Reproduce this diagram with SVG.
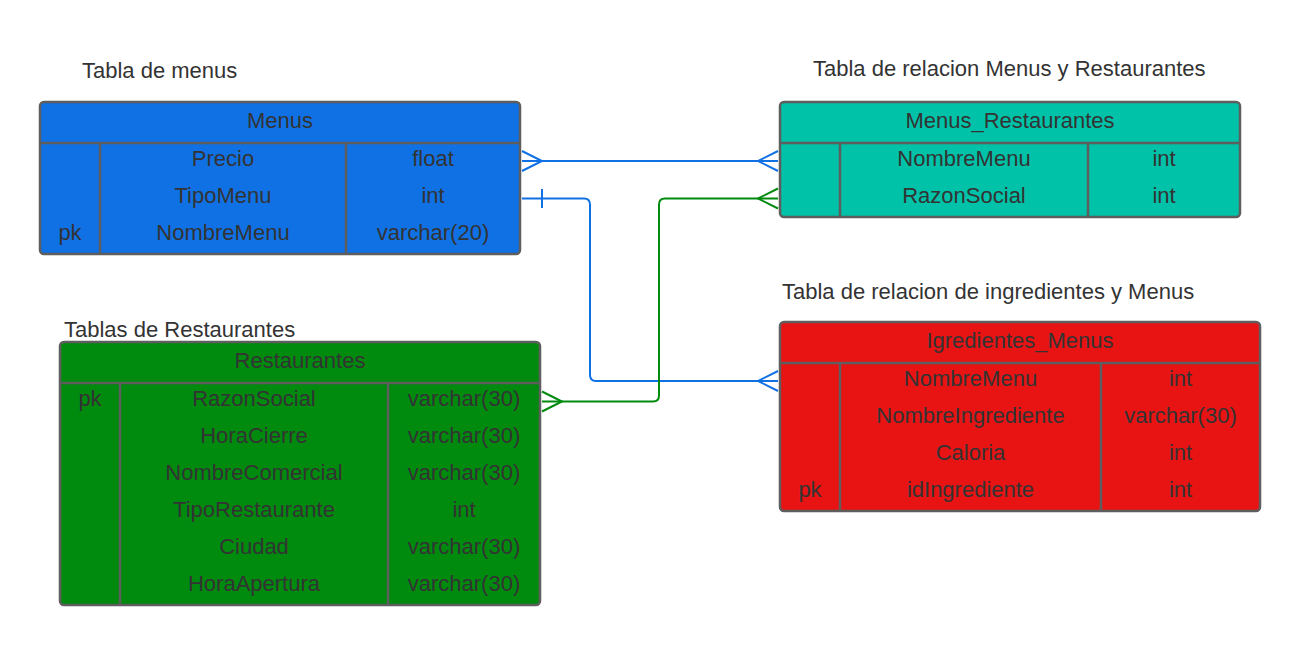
<svg xmlns="http://www.w3.org/2000/svg" width="1300" height="645" viewBox="0 0 1300 645">
<style>
text{font-family:"Liberation Sans",Arial,sans-serif;fill:#333333;font-size:22px;text-anchor:middle}
.title{font-size:22px;text-anchor:start}
.box{stroke:#5E5E5E;stroke-width:2.5}
.div{stroke:#5E5E5E;stroke-width:2.5;fill:none}
.blue{stroke:#1071E5;stroke-width:2;fill:none}
.green{stroke:#008A0E;stroke-width:2;fill:none}
</style>
<rect width="1300" height="645" fill="#FFFFFF"/>
<g id="titles">
<text class="title" x="82" y="78">Tabla de menus</text>
<text class="title" x="813" y="76">Tabla de relacion Menus y Restaurantes</text>
<text class="title" x="782" y="299">Tabla de relacion de ingredientes y Menus</text>
<text class="title" x="64" y="337">Tablas de Restaurantes</text>
</g>
<g id="connectors">
<path class="blue" d="M522 161 H778"/>
<path class="blue" d="M522 151 L542 161 L522 171"/>
<path class="blue" d="M778 151 L758 161 L778 171"/>
<path class="blue" d="M522 198.5 H584 Q590 198.5 590 204.5 V375 Q590 381 596 381 H778"/>
<path class="blue" d="M542 189 V208"/>
<path class="blue" d="M778 371 L758 381 L778 391"/>
<path class="green" d="M542 401.5 H653 Q659 401.5 659 395.5 V204.5 Q659 198.5 665 198.5 H778"/>
<path class="green" d="M542 391.5 L562 401.5 L542 411.5"/>
<path class="green" d="M778 188.5 L758 198.5 L778 208.5"/>
</g>
<g id="menus">
<rect class="box" x="40" y="102" width="480" height="152" rx="4" fill="#1071E5"/>
<path class="div" d="M40 143 H520 M100 143 V254 M346 143 V254"/>
<text x="280" y="127.5">Menus</text>
<text x="223" y="166">Precio</text><text x="433" y="166">float</text>
<text x="223" y="203">TipoMenu</text><text x="433" y="203">int</text>
<text x="70" y="240">pk</text><text x="223" y="240">NombreMenu</text><text x="433" y="240">varchar(20)</text>
</g>
<g id="menus_restaurantes">
<rect class="box" x="780" y="102" width="460" height="115" rx="4" fill="#00C2A8"/>
<path class="div" d="M780 143 H1240 M840 143 V217 M1088 143 V217"/>
<text x="1010" y="127.5">Menus_Restaurantes</text>
<text x="964" y="166">NombreMenu</text><text x="1164" y="166">int</text>
<text x="964" y="203">RazonSocial</text><text x="1164" y="203">int</text>
</g>
<g id="igredientes_menus">
<rect class="box" x="780" y="322" width="480" height="189" rx="4" fill="#E81313"/>
<path class="div" d="M780 363 H1260 M840 363 V511 M1101 363 V511"/>
<text x="1020" y="347.5">Igredientes_Menus</text>
<text x="970.5" y="386">NombreMenu</text><text x="1180.5" y="386">int</text>
<text x="970.5" y="423">NombreIngrediente</text><text x="1180.5" y="423">varchar(30)</text>
<text x="970.5" y="460">Caloria</text><text x="1180.5" y="460">int</text>
<text x="810" y="497">pk</text><text x="970.5" y="497">idIngrediente</text><text x="1180.5" y="497">int</text>
</g>
<g id="restaurantes">
<rect class="box" x="60" y="342" width="480" height="263" rx="4" fill="#008A0E"/>
<path class="div" d="M60 383 H540 M120 383 V605 M388 383 V605"/>
<text x="300" y="367.5">Restaurantes</text>
<text x="90" y="406">pk</text><text x="254" y="406">RazonSocial</text><text x="464" y="406">varchar(30)</text>
<text x="254" y="443">HoraCierre</text><text x="464" y="443">varchar(30)</text>
<text x="254" y="480">NombreComercial</text><text x="464" y="480">varchar(30)</text>
<text x="254" y="517">TipoRestaurante</text><text x="464" y="517">int</text>
<text x="254" y="554">Ciudad</text><text x="464" y="554">varchar(30)</text>
<text x="254" y="591">HoraApertura</text><text x="464" y="591">varchar(30)</text>
</g>
</svg>
